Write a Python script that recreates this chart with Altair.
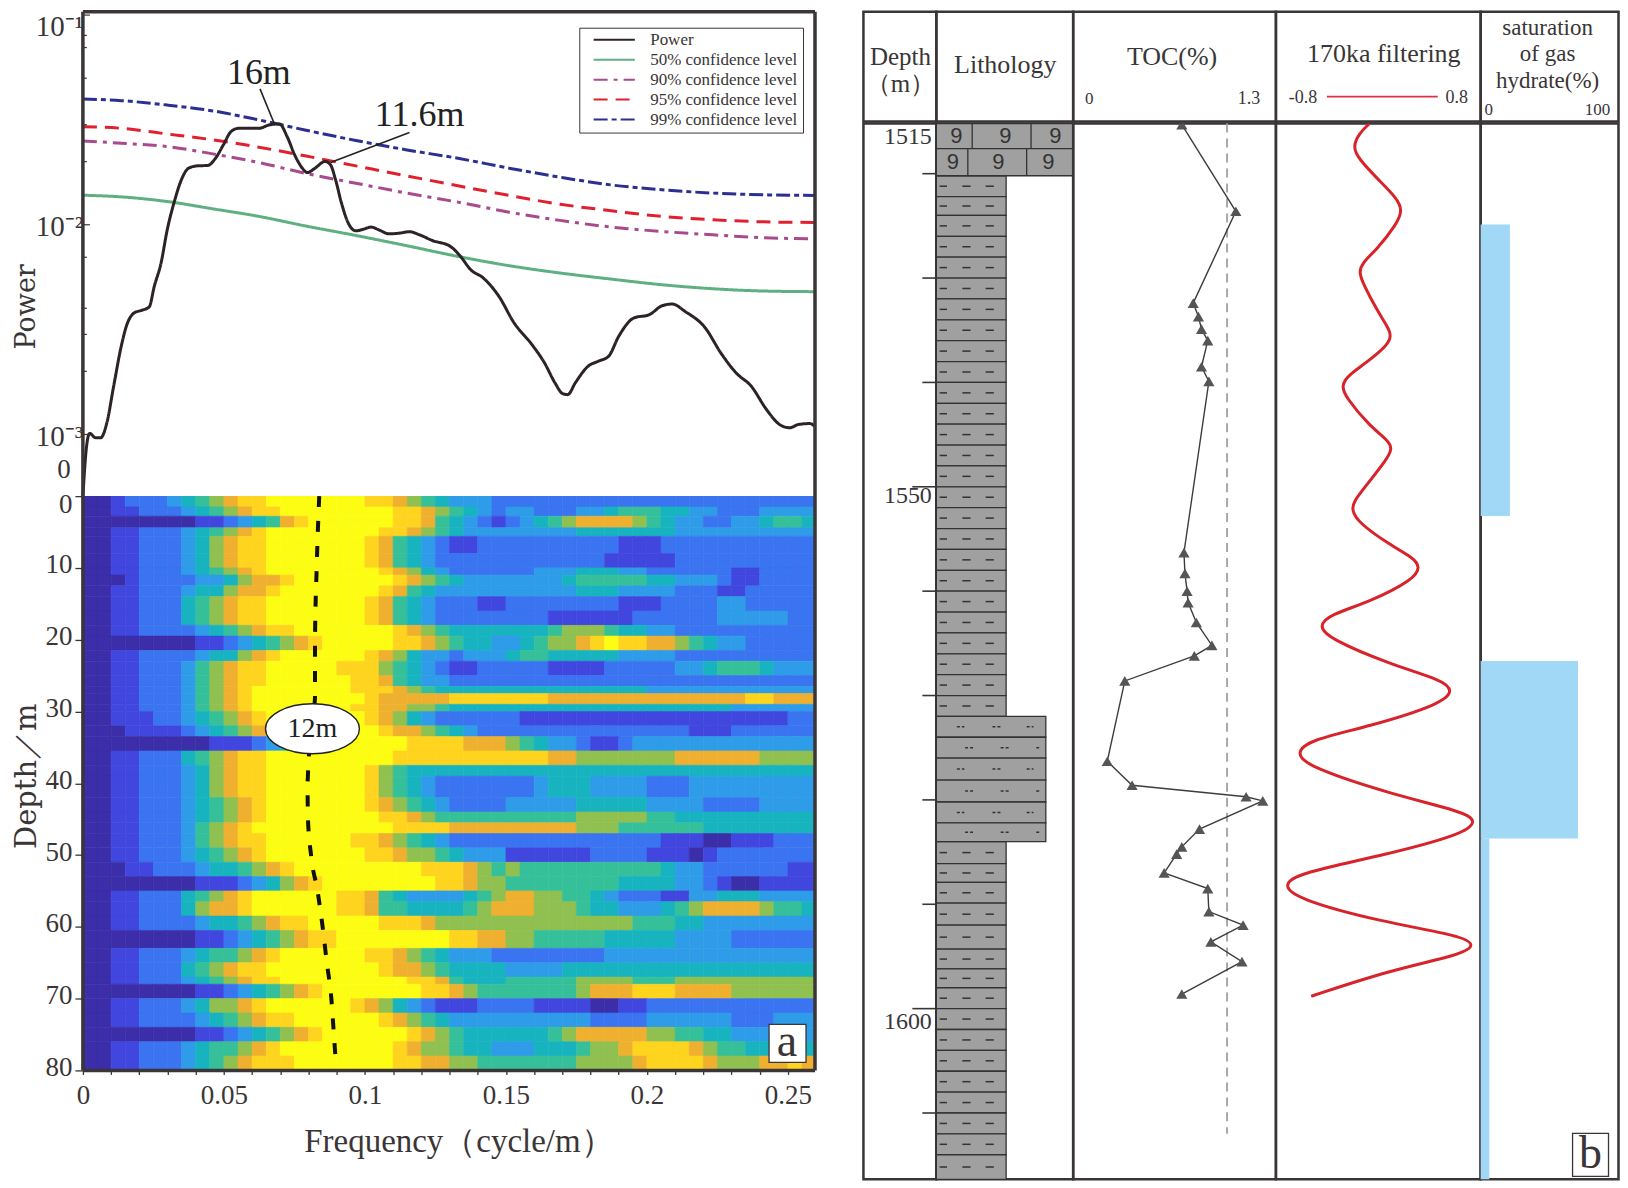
import altair as alt
import pandas as pd

SERIF = "Liberation Serif"
DARK = "#3a3536"

# ---------- panel a, spectrum ----------
power_freq = [0,.0013,.0024,.0045,.0063,.0085,.0109,.0136,.0154,.0181,.0208,.0235,.0253,.0277,.0299,.0326,.0349,.0375,.0407,.0443,.0470,.0498,.0525,.0552,.0588,.0624,.0660,.0697,.0724,.0751,.0778,.0796,.0823,.0859,.0878,.0896,.0917,.0941,.0968,.0995,.1022,.1049,.1086,.1122,.1158,.1194,.1239,.1303,.1339,.1375,.1420,.1475,.1529,.1592,.1637,.1674,.1701,.1719,.1746,.1791,.1827,.1864,.1900,.1954,.2008,.2054,.2090,.2135,.2207,.2262,.2316,.2370,.2424,.2470,.2506,.2538,.2578,.2596]
power_log10 = [-3.294,-3.056,-2.995,-3.016,-3.016,-2.944,-2.770,-2.579,-2.484,-2.421,-2.408,-2.392,-2.294,-2.183,-2.024,-1.881,-1.786,-1.730,-1.719,-1.717,-1.683,-1.619,-1.556,-1.540,-1.540,-1.540,-1.524,-1.519,-1.579,-1.667,-1.730,-1.751,-1.730,-1.698,-1.714,-1.786,-1.897,-1.992,-2.029,-2.021,-2.011,-2.024,-2.043,-2.040,-2.033,-2.048,-2.075,-2.103,-2.151,-2.214,-2.254,-2.341,-2.468,-2.571,-2.659,-2.754,-2.805,-2.810,-2.754,-2.675,-2.651,-2.627,-2.532,-2.444,-2.429,-2.386,-2.378,-2.413,-2.492,-2.611,-2.706,-2.770,-2.881,-2.952,-2.968,-2.952,-2.948,-2.963]
conf_freq = [0,.0136,.0299,.0461,.0624,.0787,.0968,.1149,.1330,.1511,.1692,.1873,.2054,.2234,.2415,.2596]
conf99_log10 = [-1.400,-1.408,-1.429,-1.457,-1.500,-1.548,-1.598,-1.643,-1.683,-1.730,-1.773,-1.810,-1.833,-1.849,-1.857,-1.860]
conf95_log10 = [-1.532,-1.540,-1.567,-1.595,-1.630,-1.671,-1.719,-1.767,-1.814,-1.860,-1.902,-1.933,-1.960,-1.976,-1.986,-1.989]
conf90_log10 = [-1.600,-1.611,-1.627,-1.662,-1.703,-1.754,-1.802,-1.849,-1.892,-1.940,-1.979,-2.011,-2.032,-2.048,-2.062,-2.067]
conf50_log10 = [-1.859,-1.867,-1.889,-1.924,-1.960,-2.005,-2.051,-2.100,-2.151,-2.195,-2.230,-2.259,-2.286,-2.305,-2.316,-2.319]
series_names = ["Power","50% confidence level","90% confidence level","95% confidence level","99% confidence level"]
series_colors = ["#2d2226","#5fb080","#a84a8e","#e0202e","#2b2f8f"]
series_dash = [[1,0],[1,0],[14,6,4,6],[14,8],[14,4,5,4]]
minor_power_ticks = [0.08,0.07,0.05,0.03,0.02,0.007,0.004,0.003,0.002]
decade_ticks = [0.1,0.01,0.001]

# ---------- panel a, time-frequency map (levels 0-9 per 0.005 cycle/m cell) ----------
heat_edges = [0,1.5,2.8,4.4,5.6,8,10,11,12.5,14,16,18,19.5,21.5,23,25,26.5,27.5,29,30,32,33.5,35.5,37.5,39,42,44,45.5,47,49,51,53,55,56.5,58.5,60.5,63,65,67,68,70,72,74,76,78,80]
heat_rows = [
"0012223456 7889999999 8876543332 2222222222 2222222222 22",
"0011222345 6788999999 9988765432 3322233455 5443322233 33",
"0000000011 2345789999 9988754321 2345677776 5433223345 54",
"0011222345 6789999999 9887654333 3333344444 4433333333 33",
"0011222346 7889999999 8754321122 2222222211 1222222222 22",
"0011222346 7889999999 8754322222 2222222111 1122222222 22",
"0011222345 6789999999 9876432222 2233344433 2222221122 22",
"0001222233 4677899999 9987654333 3333455555 4433321122 22",
"0011222344 6778999999 9875433333 3333344433 3322211222 22",
"0011222456 7889999999 8754322211 2222222211 1222233222 22",
"0011222456 7889999999 8754322222 2221111112 2222233333 22",
"0011222234 5678899999 9987654444 4445666544 3322222222 22",
"0000000011 2345678999 9988765443 3456678988 7765433222 22",
"0011222234 4678999999 8764332333 4554444433 3322222222 22",
"0011222356 7889999988 8654321122 2221111222 2233455543 33",
"0011222356 7889999998 8754332222 2222222222 2222222222 22",
"0011222356 7899999998 8876544444 4444444444 3333333333 33",
"0011222356 7899999999 8777778888 8887777777 7777777887 77",
"0011222356 7899999998 8776654444 4444444444 4444443333 33",
"0011122345 6789999999 8764322222 2111111111 1111111111 22",
"0001111234 5678999999 9877654322 2222222222 2221112222 22",
"0000000001 1123457899 9998888777 6543321123 3333333333 33",
"0011222456 7889999999 9988888888 8887766666 6677777766 66",
"0011222346 7889999999 8654444444 4444444444 4444444444 44",
"0011222346 7889999999 8654322222 2234443333 2223333333 33",
"0011222345 6789999999 8765432222 3333344444 3333222233 33",
"0011222345 6789999999 9887655555 5555566666 5544444444 44",
"0011222356 7899999999 9988887777 7777766655 5555444444 44",
"0011222356 7889999998 8765432222 2222222222 2111001112 22",
"0011222345 6789999999 8876654333 1111112222 1110122222 22",
"0001122234 4567899999 9999888765 6555555555 5433222222 11",
"0000000011 1234678999 9999988766 5555555544 4433210011 11",
"0011222456 7899999988 7543333456 7766554322 2113344433 33",
"0011222467 7899999988 7554444567 7766654433 3456777765 54",
"0011222234 4567889999 9888766666 6666666665 5544333333 33",
"0000000011 2345678899 9999998877 6655555444 4433332222 22",
"0011222345 5678999999 8876543332 2222222333 3333333333 33",
"0011222456 7889999999 9877654444 3333444444 4444444444 44",
"0011222345 6788999999 9998875444 5555566665 5566666666 66",
"0000000011 2345678999 9999887655 5555567778 8877776666 66",
"0011222346 6789999998 7643211122 2211110011 2222222222 22",
"0011222234 5678899999 9876543333 3333332222 3333332223 33",
"0000000011 2345678999 9998765444 4445677777 6655443333 33",
"0011222345 5678999999 9987665443 3344456678 8887655444 44",
"0011222345 6788899999 9988776655 5555566667 8888766677 87",
]
level_stops = [0,1,2,3,4,5,6,7,8,9]
level_colors = ["#3b2ea8","#4046de","#3a74f0","#2e9ce8","#17b4c0","#35c09a","#8fc050","#efb030","#ffd41e","#fdfd14"]
ridge_freq = [.0838,.0829,.0823,.0823,.0810,.0800,.0796,.0798,.0809,.0832,.0850,.0865,.0881,.0890,.0897]
ridge_depth = [0,10,20,28,33,37,40,45,50,55,60,65,70,75,79]

# ---------- panel b ----------
depth_ticks_short = [1520,1530,1540,1560,1570,1580,1590,1610]
depth_ticks_long = [1550,1600]
gravel_top = [1515.2,1517.6]
gravel_bottom = [1517.6,1520.2]
gravel_walls = [[.262,.692],[.23,.66]]
gravel_marks = [[.146,.505,.869],[.121,.454,.818]]
shale_upper = [1520.2,1522.2,1524,1526,1528,1530,1532,1534,1536,1538,1540,1542,1544,1546,1548,1550,1552,1554,1556,1558,1560,1562,1564,1566,1568,1570,1572]
silt_edges = [1572,1574,1576,1578.1,1580.2,1582.2,1584]
shale_lower = [1584,1586.1,1587.9,1589.9,1592,1594.3,1596.2,1598,1600,1602,1604,1606,1608,1610,1612,1614,1616.35]
shale_width = 0.51
silt_width = 0.80
shale_dashes = [[.024,.078],[.19,.25],[.36,.42]]
silt_dashes = [[[.15,.205],[.41,.47],[.66,.71]],[[.21,.27],[.47,.53],[.73,.755]]]

toc_values = [.739,1.170,.830,.872,.896,.946,.896,.955,.756,.764,.781,.789,.855,.979,.839,.284,.144,.342,1.252,1.385,.880,.739,.698,.598,.946,.955,1.228,.971,1.219,.739]
toc_depth = [1515.3,1523.6,1532.4,1533.7,1534.9,1536.0,1538.5,1539.9,1556.3,1558.3,1560.0,1561.1,1563.0,1565.2,1566.2,1568.6,1576.3,1578.6,1579.7,1580.1,1582.8,1584.5,1585.2,1587.0,1588.5,1590.7,1592.0,1593.6,1595.5,1598.6]
toc_cutoff = [1.1,1.1]
toc_cutoff_depth = [1515.2,1612]

filter_values = [-.086,-.172,-.224,-.172,-.017,.137,.189,.137,-.026,-.146,-.172,-.138,-.026,.068,.094,.068,-.121,-.258,-.318,-.284,-.086,.068,.103,.060,-.129,-.215,-.232,-.181,.085,.274,.334,.283,-.086,-.412,-.506,-.421,.085,.514,.608,.514,-.086,-.584,-.696,-.584,.085,.686,.806,.686,-.001,-.687,-.798,-.687,-.001,.686,.789,.669,.085,-.567]
filter_depth = [1515.2,1516.14,1517.43,1518.62,1520.51,1522.30,1523.49,1524.88,1527.27,1528.56,1529.45,1530.54,1533.03,1534.72,1535.51,1536.41,1538.2,1539.29,1540.28,1541.38,1544.16,1545.55,1546.34,1547.34,1550.12,1551.41,1552.21,1553.40,1555.58,1556.78,1557.67,1558.86,1561.05,1562.24,1563.33,1564.53,1567.01,1568.50,1569.50,1570.79,1572.97,1574.26,1575.55,1576.85,1579.43,1581.12,1582.02,1583.31,1585.39,1587.08,1588.18,1589.47,1591.65,1593.04,1593.94,1594.83,1596.32,1598.81]

sat_values = [27,90,8]
sat_top = [1524.88,1566.7,1583.7]
sat_bottom = [1552.8,1583.7,1616.35]

# ---------- layout ----------
L_W, TOP_H, HEAT_H = 733, 485, 575
HEAD_H, BODY_H = 110, 1057
COL_W = [73, 137, 203, 205, 138]
FREQ_DOM = [0, 0.2596]
DEPTH_B = alt.Scale(domain=[1515.2, 1616.35], reverse=True, nice=False, zero=False)
FRAME = alt.ViewBackground(stroke=DARK, strokeWidth=2.5)


def edge(**kw):
    return alt.Chart(pd.DataFrame({"k": [0]})).mark_rule(color=DARK, strokeWidth=3.5, clip=False).encode(**kw)


def note(text, x, y, size, font=SERIF, **mk):
    return alt.Chart(pd.DataFrame({"t": [text]})).mark_text(font=font, fontSize=size, color=DARK, **mk).encode(
        x=alt.value(x), y=alt.value(y), text="t:N")


# ----- top spectrum -----
rows = []
for name, fq, vals in [(series_names[1], conf_freq, conf50_log10), (series_names[2], conf_freq, conf90_log10),
                       (series_names[3], conf_freq, conf95_log10), (series_names[4], conf_freq, conf99_log10),
                       (series_names[0], power_freq, power_log10)]:
    for f, v in zip(fq, vals):
        rows.append({"f": f, "p": 10 ** v, "s": name})
spec = pd.DataFrame(rows)

x_top = alt.X("f:Q", scale=alt.Scale(domain=FREQ_DOM, nice=False, zero=False), axis=None)
y_scale = alt.Scale(type="log", domain=[10 ** -3.294, 10 ** -0.984], nice=False)
y_top = alt.Y("p:Q", scale=y_scale, axis=alt.Axis(
    title="Power", titleFont="DejaVu Serif", titleFontSize=27, titleFontWeight="normal", titleColor=DARK,
    titleX=-56, titleY=295, titleAlign="center", titleBaseline="middle", titleAngle=270,
    values=decade_ticks, ticks=False, domain=False, grid=False,
    labelExpr="datum.value>0.05?'10⁻¹':datum.value>0.005?'10⁻²':'10⁻³'",
    labelFont=SERIF, labelFontSize=29, labelColor=DARK, labelPadding=0, labelBound=False,
    labelBaseline="top", labelOffset={"condition": {"test": "datum.value>0.05", "value": -3}, "value": -12},
    labelFlush=False))

lines = alt.Chart(spec).mark_line(strokeWidth=3, interpolate="monotone").encode(
    x=x_top, y=y_top,
    color=alt.Color("s:N", scale=alt.Scale(domain=series_names, range=series_colors),
                    legend=alt.Legend(title=None, orient="none", legendX=497, legendY=16, fillColor="white",
                                      strokeColor=DARK, padding=5, labelFont=SERIF, labelFontSize=17, labelColor=DARK,
                                      symbolType="stroke", symbolSize=1700, symbolStrokeWidth=2, clipHeight=14,
                                      rowPadding=3, labelLimit=220, symbolOffset=8, labelOffset=14)),
    strokeDash=alt.StrokeDash("s:N", scale=alt.Scale(domain=series_names, range=series_dash), legend=alt.Legend(title=None)),
    order=alt.Order("s:N"), detail="s:N")

ptick = pd.DataFrame({"p": minor_power_ticks})
dtick = pd.DataFrame({"p": decade_ticks})
top_minor = alt.Chart(ptick).mark_rule(color=DARK, strokeWidth=1.2).encode(x=alt.value(0), x2=alt.value(4), y=y_top)
top_major = alt.Chart(dtick).mark_rule(color=DARK, strokeWidth=1.2).encode(x=alt.value(0), x2=alt.value(7), y=y_top)

leaders = pd.DataFrame({"f": [.0628, .1158], "f2": [.0678, .0878], "p": [10 ** -1.352, 10 ** -1.560], "p2": [10 ** -1.516, 10 ** -1.703]})
leader = alt.Chart(leaders).mark_rule(color="#222", strokeWidth=1.6).encode(x=x_top, x2="f2:Q", y=y_top, y2="p2:Q")
peak = pd.DataFrame({"f": [.0624, .1194], "p": [10 ** -1.278, 10 ** -1.476], "t": ["16m", "11.6m"]})
peak_text = alt.Chart(peak).mark_text(font=SERIF, fontSize=36, color="#222").encode(x=x_top, y=y_top, text="t:N")

top = alt.layer(
    lines, top_minor, top_major, leader, peak_text,
    note("0", -19, 459, 27, baseline="middle"),
    edge(x=alt.value(0), x2=alt.value(L_W), y=alt.value(0)),
    edge(x=alt.value(0), y=alt.value(0), y2=alt.value(TOP_H)),
    edge(x=alt.value(L_W), y=alt.value(0), y2=alt.value(TOP_H)),
).properties(width=L_W, height=TOP_H)

# ----- time-frequency map -----
cells = []
for r, row in enumerate(heat_rows):
    row = row.replace(" ", "")
    for i, ch in enumerate(row):
        cells.append({"f": i * 0.005, "f2": (i + 1) * 0.005, "d": heat_edges[r], "d2": heat_edges[r + 1], "v": int(ch)})
cells = pd.DataFrame(cells)
x_h = alt.X("f:Q", scale=alt.Scale(domain=FREQ_DOM, nice=False, zero=False), axis=alt.Axis(
    values=[round(i * 0.01, 2) for i in range(26)], tickSize=4, tickColor=DARK, tickWidth=1.3, domain=False, grid=False,
    labelExpr="round(datum.value*100)%5==0?format(datum.value,'~g'):''",
    labelFont=SERIF, labelFontSize=27, labelColor=DARK, labelPadding=8, labelOverlap=False, labelFlush=False, labelBound=False,
    title="Frequency（cycle/m）", titleFont=SERIF, titleFontSize=33, titleFontWeight="normal", titleColor=DARK,
    titleX=376, titleY=71, titleAlign="center", titleBaseline="middle"))
y_h = alt.Y("d:Q", scale=alt.Scale(domain=[0, 80], reverse=True, nice=False, zero=False), axis=alt.Axis(
    values=list(range(0, 81, 10)), tickSize=8, tickColor=DARK, tickWidth=1.3, domain=False, grid=False,
    labelFont=SERIF, labelFontSize=27, labelColor=DARK, labelPadding=3, labelBound=False, labelFlush=False,
    labelOffset={"condition": {"test": "datum.value==0", "value": 8}, "value": -3},
    title="Depth／m", titleFont="DejaVu Serif", titleFontSize=29, titleFontWeight="normal", titleColor=DARK,
    titleX=-56, titleY=280, titleAlign="center", titleBaseline="middle", titleAngle=270))
level_scale = alt.Scale(domain=level_stops, range=level_colors)
heat = alt.Chart(cells).mark_rect(clip=True, strokeWidth=0.6).encode(
    x=x_h, x2="f2:Q", y=y_h, y2="d2:Q",
    color=alt.Color("v:Q", scale=level_scale, legend=None),
    stroke=alt.Stroke("v:Q", scale=level_scale, legend=None))
ridge = alt.Chart(pd.DataFrame({"f": ridge_freq, "d": ridge_depth})).mark_line(
    color="#111", strokeWidth=4, strokeDash=[11, 14], interpolate="monotone", orient="vertical").encode(
    x=x_h, y=y_h, order="d:Q")
ELL = "M -0.94 0 A 0.94 0.5 0 1 1 0.94 0 A 0.94 0.5 0 1 1 -0.94 0 Z"
ell_df = pd.DataFrame({"f": [.0814], "d": [32.4], "t": ["12m"]})
ellipse = alt.Chart(ell_df).mark_point(shape=ELL, size=10000, filled=True, fill="white", stroke="#222", strokeWidth=1.4, opacity=1).encode(x=x_h, y=y_h)
ell_text = alt.Chart(ell_df).mark_text(font=SERIF, fontSize=28, color="#222").encode(x=x_h, y=y_h, text="t:N")
a_box = alt.Chart(pd.DataFrame({"k": [0]})).mark_rect(fill="white", stroke=DARK, strokeWidth=1.3).encode(
    x=alt.value(687), x2=alt.value(724), y=alt.value(529), y2=alt.value(567))
heat_panel = alt.layer(
    heat, ridge, ellipse, ell_text, a_box,
    note("a", 705, 547, 46, baseline="middle"),
    edge(x=alt.value(0), y=alt.value(0), y2=alt.value(HEAT_H)),
    edge(x=alt.value(L_W), y=alt.value(0), y2=alt.value(HEAT_H)),
    edge(x=alt.value(0), x2=alt.value(L_W), y=alt.value(HEAT_H)),
).properties(width=L_W, height=HEAT_H)

left = alt.vconcat(top, heat_panel, spacing=0, bounds="flush").resolve_scale(color="independent", strokeDash="independent", stroke="independent")

# ----- headers -----
def header(width, *marks):
    blank = alt.Chart(pd.DataFrame({"k": [0]})).mark_rule(opacity=0).encode(x=alt.value(0))
    return alt.layer(blank, *marks).properties(width=width, height=HEAD_H, view=FRAME)

LINE = {"baseline": "middle"}
h_depth = header(COL_W[0], note("Depth", 37, 45, 25, **LINE), note("（m）", 37, 72, 25, **LINE))
h_lith = header(COL_W[1], note("Lithology", 69, 53, 26, **LINE))
h_toc = header(COL_W[2], note("TOC(%)", 99, 45, 26, **LINE), note("0", 16, 87, 17, **LINE), note("1.3", 176, 87, 18, **LINE))
red_key = alt.Chart(pd.DataFrame({"k": [0]})).mark_rule(color="#e03040", strokeWidth=1.8).encode(
    x=alt.value(51), x2=alt.value(162), y=alt.value(85))
h_filter = header(COL_W[3], note("170ka filtering", 108, 42, 26, **LINE), note("-0.8", 27, 86, 18, **LINE),
                  note("0.8", 181, 86, 18, **LINE), red_key)
h_sat = header(COL_W[4], note("saturation", 67, 16, 23, **LINE), note("of gas", 67, 42, 23, **LINE),
               note("hydrate(%)", 67, 69, 23, **LINE), note("0", 8, 98, 17, **LINE), note("100", 117, 98, 17, **LINE))
head_row = alt.hconcat(h_depth, h_lith, h_toc, h_filter, h_sat, spacing=0, bounds="flush")

# ----- body columns -----
y_b = alt.Y("d:Q", scale=DEPTH_B, axis=None)
depth_body = alt.Chart(pd.DataFrame({"k": [0]})).mark_rule(opacity=0).encode(x=alt.value(0)).properties(
    width=COL_W[0], height=BODY_H, view=FRAME)

y_b_axis = alt.Y("d:Q", scale=DEPTH_B, axis=alt.Axis(
    values=[1515.2, 1550, 1600], ticks=False, domain=False, grid=False, title=None,
    labelExpr="datum.value<1520?'1515':format(datum.value,'d')",
    labelFont=SERIF, labelFontSize=24, labelColor=DARK, labelPadding=5, labelBound=False, labelFlush=False,
    labelBaseline="top", labelOffset={"condition": {"test": "datum.value==1550", "value": -3}, "value": 1}))
x_l = alt.X("x:Q", scale=alt.Scale(domain=[0, 1], nice=False, zero=False), axis=None)
GREY = "#a0a0a0"
bed_rows = []
for a, b in zip(shale_upper[:-1] + shale_lower[:-1], shale_upper[1:] + shale_lower[1:]):
    bed_rows.append({"x": 0, "x2": shale_width, "d": a, "d2": b})
for a, b in zip(silt_edges[:-1], silt_edges[1:]):
    bed_rows.append({"x": 0, "x2": silt_width, "d": a, "d2": b})
for a, b in zip(gravel_top, gravel_bottom):
    bed_rows.append({"x": 0, "x2": 1, "d": a, "d2": b})
beds = alt.Chart(pd.DataFrame(bed_rows)).mark_rect(fill=GREY, stroke="#333", strokeWidth=1.3).encode(
    x=x_l, x2="x2:Q", y=y_b_axis, y2="d2:Q")

dash_rows = []
for a, b in zip(shale_upper[:-1] + shale_lower[:-1], shale_upper[1:] + shale_lower[1:]):
    for s, e in shale_dashes:
        dash_rows.append({"x": s, "x2": e, "d": (a + b) / 2})
shale_marks = alt.Chart(pd.DataFrame(dash_rows)).mark_rule(color="#333", strokeWidth=1.5).encode(x=x_l, x2="x2:Q", y=y_b_axis)
silt_rows = []
for n, (a, b) in enumerate(zip(silt_edges[:-1], silt_edges[1:])):
    for s, e in silt_dashes[n % 2]:
        silt_rows.append({"x": s, "x2": e, "d": (a + b) / 2})
silt_marks = alt.Chart(pd.DataFrame(silt_rows)).mark_rule(color="#333", strokeWidth=1.5, strokeDash=[3, 2]).encode(x=x_l, x2="x2:Q", y=y_b_axis)
wall_rows = []
for t, b, ws in zip(gravel_top, gravel_bottom, gravel_walls):
    for w in ws:
        wall_rows.append({"x": w, "d": t, "d2": b})
walls = alt.Chart(pd.DataFrame(wall_rows)).mark_rule(color="#333", strokeWidth=1.3).encode(x=x_l, y=y_b_axis, y2="d2:Q")
nine_rows = []
for t, b, ms in zip(gravel_top, gravel_bottom, gravel_marks):
    for m in ms:
        nine_rows.append({"x": m, "d": (t + b) / 2, "t": "9"})
nines = alt.Chart(pd.DataFrame(nine_rows)).mark_text(font="Liberation Sans", fontSize=22, color="#333", baseline="middle").encode(x=x_l, y=y_b_axis, text="t:N")
short_t = alt.Chart(pd.DataFrame({"d": depth_ticks_short})).mark_rule(color=DARK, strokeWidth=1.6).encode(
    x=alt.value(-14), x2=alt.value(0), y=y_b_axis)
long_t = alt.Chart(pd.DataFrame({"d": depth_ticks_long})).mark_rule(color=DARK, strokeWidth=1.6).encode(
    x=alt.value(-24), x2=alt.value(0), y=y_b_axis)
lith_body = alt.layer(beds, walls, nines, shale_marks, silt_marks, short_t, long_t).properties(
    width=COL_W[1], height=BODY_H, view=FRAME)

x_t = alt.X("v:Q", scale=alt.Scale(domain=[-0.128, 1.49], nice=False, zero=False), axis=None)
toc_df = pd.DataFrame({"v": toc_values, "d": toc_depth, "o": range(len(toc_values))})
toc_line = alt.Chart(toc_df).mark_line(color="#3d3d3d", strokeWidth=1.4).encode(x=x_t, y=y_b, order="o:Q")
toc_pts = alt.Chart(toc_df).mark_point(shape="triangle-up", filled=True, color="#555", size=125, opacity=1, clip=True).encode(x=x_t, y=y_b)
cut = alt.Chart(pd.DataFrame({"v": toc_cutoff, "d": toc_cutoff_depth})).mark_line(color="#a8a8a8", strokeWidth=2, strokeDash=[9, 6]).encode(x=x_t, y=y_b)
toc_body = alt.layer(cut, toc_line, toc_pts).properties(width=COL_W[2], height=BODY_H, view=FRAME)

x_f = alt.X("v:Q", scale=alt.Scale(domain=[-0.858, 0.833], nice=False, zero=False), axis=None)
filt_df = pd.DataFrame({"v": filter_values, "d": filter_depth, "o": range(len(filter_values))})
filter_body = alt.Chart(filt_df).mark_line(color="#d8232a", strokeWidth=3, interpolate="basis", clip=True).encode(
    x=x_f, y=y_b, order="o:Q").properties(width=COL_W[3], height=BODY_H, view=FRAME)

x_s = alt.X("v:Q", scale=alt.Scale(domain=[0, 127.5], nice=False, zero=True), axis=None)
sat_df = pd.DataFrame({"v": sat_values, "d": sat_top, "d2": sat_bottom})
sat_bars = alt.Chart(sat_df).mark_rect(fill="#a0d8f5").encode(x=x_s, x2=alt.value(0), y=y_b, y2="d2:Q")
b_box = alt.Chart(pd.DataFrame({"k": [0]})).mark_rect(fill="white", stroke=DARK, strokeWidth=1.3).encode(
    x=alt.value(92), x2=alt.value(128), y=alt.value(1011), y2=alt.value(1054))
sat_body = alt.layer(sat_bars, b_box, note("b", 110, 1032, 46, baseline="middle")).properties(
    width=COL_W[4], height=BODY_H, view=FRAME)

body_row = alt.hconcat(depth_body, lith_body, toc_body, filter_body, sat_body, spacing=0, bounds="flush")
right = alt.vconcat(head_row, body_row, spacing=-6.9)

chart = alt.hconcat(left, right, spacing=39.5).configure_view(stroke="transparent").properties(
    padding={"left": 4, "top": 0, "right": 0, "bottom": 0}, background="white")
chart.save("out.html", embed_options={"renderer": "svg", "actions": False})
